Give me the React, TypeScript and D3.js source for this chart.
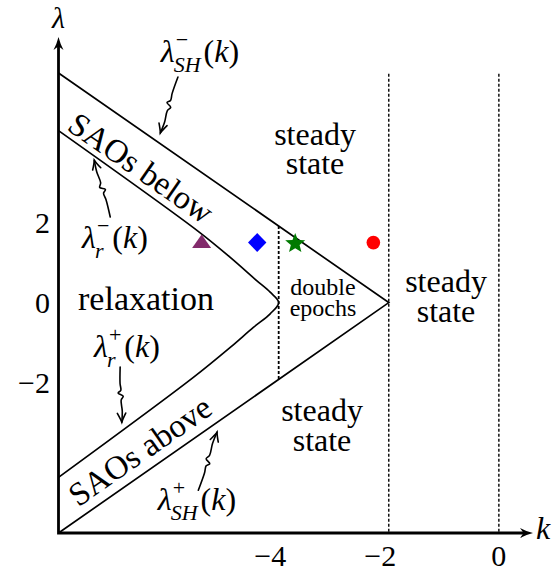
import React from 'react';
import * as d3 from 'd3';

const WIDTH = 554;
const HEIGHT = 571;
const FONT = "'Liberation Serif', 'Times New Roman', 'Noto Serif', serif";

// axis extents (k horizontal, λ vertical)
const kDomain = [-8, 0.62];
const lambdaDomain = [-5.76, 6.64];
const kTicks = [-4, -2, 0];
const lambdaTicks = [-2, 0, 2];

// saddle-homoclinic boundaries λ_SH^-(k) and λ_SH^+(k)
const shMinusK = [-8, -2];
const shMinusLambda = [5.74, 0];
const shPlusK = [-2, -8];
const shPlusLambda = [0, -5.76];

// relaxation boundaries λ_r^-(k) and λ_r^+(k)
const rMinusK = [-8, -5.45, -4.88, -4.4, -4.155, -4.0];
const rMinusLambda = [4.3, 1.77, 1.13, 0.55, 0.26, 0];
const rPlusK = [-4.155, -4.46, -4.88, -5.55, -8];
const rPlusLambda = [-0.28, -0.62, -1.12, -1.87, -4.37];

// dotted separators
const epochK = -4;
const separatorK = [-2, 0];
const separatorTop = 5.72;

// sample parameter points
const sampleK = [-5.4, -4.39, -3.7, -2.28];
const sampleLambda = [1.5, 1.5, 1.5, 1.5];
const sampleShape = ['triangle', 'diamond', 'star', 'circle'];
const sampleColor = ['#832b6c', '#0000ff', '#007a00', '#ff0000'];

// region names: lines, centre x, first baseline
const regionLines = [
  ['steady', 'state'],
  ['steady', 'state'],
  ['steady', 'state'],
  ['relaxation'],
  ['double', 'epochs'],
];
const regionX = [315, 446, 322, 146, 323];
const regionY = [145, 292, 421, 310, 295];
const regionSize = [32, 32, 32, 34, 24];
const regionLead = [29, 30, 30, 0, 21];

// boundary-curve labels
const curveSup = ['\u2212', '\u2212', '+', '+'];
const curveSub = ['SH', 'r', 'r', 'SH'];
const curveLabelX = [200, 115, 127, 197];
const curveLabelY = [62, 248, 357, 510];

// pointer arrows: start and tip in (k, λ)
const pointerFrom = [[-5.83, 5.64], [-7.06, 2.14], [-6.88, -1.61], [-5.46, -4.69]];
const pointerTo = [[-6.15, 4.24], [-7.35, 3.56], [-6.85, -2.99], [-5.12, -3.24]];

let measureCtx: CanvasRenderingContext2D | null = null;
function measure(s: string, size: number, italic = false): number {
  if (!measureCtx) measureCtx = document.createElement('canvas').getContext('2d');
  if (!measureCtx) return s.length * size * 0.5;
  measureCtx.font = `${italic ? 'italic ' : ''}${size}px ${FONT}`;
  return measureCtx.measureText(s).width;
}

const fmt = (v: number) => (v < 0 ? '\u2212' + Math.abs(v) : String(v));

function T(props: any) {
  const { italic, size, ...rest } = props;
  return (
    <text
      {...rest}
      fontFamily={FONT}
      style={{ fontFamily: FONT, fontSize: size + 'px', fontStyle: italic ? 'italic' : 'normal' }}
    />
  );
}

function MathLabel({ cx, base, sup, sub }: { cx: number; base: number; sup: string; sub: string }) {
  const size = 32;
  const ss = 22;
  const wL = measure('λ', size, true);
  const wSup = measure(sup, ss) + 1;
  const wSub = measure(sub, ss, true) - 1;
  const restX = wL + Math.max(wSup, wSub) + 3;
  const total = restX + measure('(', size) + measure('k', size, true) + measure(')', size);
  return (
    <g transform={`translate(${cx - total / 2},${base})`}>
      <T x={0} y={0} size={size} italic>λ</T>
      <T x={wL + 1} y={-size * 0.48} size={ss}>{sup}</T>
      <T x={wL - 1} y={size * 0.3} size={ss} italic>{sub}</T>
      <T x={restX} y={0} size={size}>
        (<tspan style={{ fontStyle: 'italic' }}>k</tspan>)
      </T>
    </g>
  );
}

function starPath(ro: number, ri: number) {
  const pts: [number, number][] = [];
  for (let j = 0; j < 10; j++) {
    const r = j % 2 === 0 ? ro : ri;
    const a = -Math.PI / 2 + (j * Math.PI) / 5;
    pts.push([r * Math.cos(a), r * Math.sin(a)]);
  }
  return 'M' + pts.map((p) => p.join(',')).join('L') + 'Z';
}

function axisHead(tx: number, ty: number, ux: number, uy: number) {
  const nx = -uy, ny = ux;
  const L = 13, W = 5;
  const p = d3.path();
  p.moveTo(tx, ty);
  p.quadraticCurveTo(tx - ux * L * 0.6 + nx * W * 0.4, ty - uy * L * 0.6 + ny * W * 0.4,
    tx - ux * L + nx * W, ty - uy * L + ny * W);
  p.lineTo(tx - ux * L * 0.72, ty - uy * L * 0.72);
  p.lineTo(tx - ux * L - nx * W, ty - uy * L - ny * W);
  p.quadraticCurveTo(tx - ux * L * 0.6 - nx * W * 0.4, ty - uy * L * 0.6 - ny * W * 0.4, tx, ty);
  p.closePath();
  return p.toString();
}

export default function App() {
  const x = d3.scaleLinear().domain(kDomain).range([58.5, 533]);
  const y = d3.scaleLinear().domain(lambdaDomain).range([533, 37]);

  const shUpper = d3.scaleLinear().domain(shMinusK).range(shMinusLambda);
  const shLower = d3.scaleLinear().domain(shPlusK).range(shPlusLambda);

  const line = d3.line<number[]>().x((d) => x(d[0])).y((d) => y(d[1]));
  const shPts = shMinusK.map((k, i) => [k, shMinusLambda[i]])
    .concat(shPlusK.slice(1).map((k, i) => [k, shPlusLambda[i + 1]]));

  const curve = d3.line<number[]>().x((d) => x(d[0])).y((d) => y(d[1]))
    .curve(d3.curveCatmullRom.alpha(0.5));
  const rPts = rMinusK.map((k, i) => [k, rMinusLambda[i]])
    .concat(rPlusK.map((k, i) => [k, rPlusLambda[i]]));

  const x0 = x(kDomain[0]);
  const yb = y(lambdaDomain[0]);
  const xTip = x(kDomain[1]);
  const yTip = y(lambdaDomain[1]);

  const ang = (Math.atan2(y(shMinusLambda[1]) - y(shMinusLambda[0]), x(shMinusK[1]) - x(shMinusK[0])) * 180) / Math.PI;

  const smooth = d3.line<[number, number]>().curve(d3.curveCatmullRom.alpha(0.5));
  const pointers = pointerFrom.map((from, i) => {
    const sx = x(from[0]), sy = y(from[1]);
    const tx = x(pointerTo[i][0]), ty = y(pointerTo[i][1]);
    const dx = tx - sx, dy = ty - sy;
    const len = Math.hypot(dx, dy);
    const ux = dx / len, uy = dy / len;
    const nx = -uy, ny = ux;
    const at = (t: number, o: number): [number, number] => [sx + dx * t + nx * o, sy + dy * t + ny * o];
    const body = smooth([at(0, 0), at(0.3, 0.6), at(0.42, 0), at(0.47, 2.8), at(0.53, -2.2), at(0.6, 0), at(0.8, -0.8), at(1, 0)]);
    const L = 9, W = 4.2;
    const p = d3.path();
    p.moveTo(tx - ux * L + nx * W, ty - uy * L + ny * W);
    p.quadraticCurveTo(tx - ux * 3 + nx * 1, ty - uy * 3 + ny * 1, tx, ty);
    p.quadraticCurveTo(tx - ux * 3 - nx * 1, ty - uy * 3 - ny * 1, tx - ux * L - nx * W, ty - uy * L - ny * W);
    return { body, head: p.toString() };
  });

  return (
    <svg
      width={WIDTH}
      height={HEIGHT}
      fontFamily={FONT}
      style={{ position: 'absolute', left: 0, top: 0, background: '#fff', fontFamily: FONT }}
    >
      {/* dotted separators */}
      <line x1={x(epochK)} x2={x(epochK)} y1={y(shUpper(epochK))} y2={y(shLower(epochK))}
        stroke="#000" strokeWidth={1.8} strokeDasharray="3,2" />
      {separatorK.map((k) => (
        <line key={k} x1={x(k)} x2={x(k)} y1={y(separatorTop)} y2={y(lambdaDomain[0])}
          stroke="#000" strokeWidth={1.4} strokeDasharray="3,2" />
      ))}

      {/* boundaries */}
      <path d={line(shPts) || ''} fill="none" stroke="#000" strokeWidth={1.7} strokeLinejoin="miter" />
      <path d={curve(rPts) || ''} fill="none" stroke="#000" strokeWidth={1.7} />

      {/* axes */}
      <path d={`M${x0},${yTip + 8}L${x0},${yb}L${xTip - 8},${yb}`} fill="none" stroke="#000"
        strokeWidth={2.8} strokeLinejoin="miter" />
      <path d={axisHead(x0, yTip, 0, -1)} fill="#000" />
      <path d={axisHead(xTip, yb, 1, 0)} fill="#000" />
      <T x={x0} y={28} size={30} italic textAnchor="middle">λ</T>
      <T x={536} y={539} size={32} italic>k</T>

      {kTicks.map((k) => (
        <T key={k} x={x(k) + 7.5} y={566} size={30} textAnchor="end">{fmt(k)}</T>
      ))}
      {lambdaTicks.map((v) => (
        <T key={v} x={50} y={y(v) + 10} size={30} textAnchor="end">{fmt(v)}</T>
      ))}

      {/* region names */}
      {regionLines.map((lines, i) =>
        lines.map((s, j) => (
          <T key={`${i}-${j}`} x={regionX[i]} y={regionY[i] + j * regionLead[i]} size={regionSize[i]}
            textAnchor="middle">{s}</T>
        ))
      )}

      {/* band names */}
      <T transform={`translate(141,168) rotate(${ang})`} size={33} textAnchor="middle"
        dominantBaseline="central">SAOs below</T>
      <T transform={`translate(140,451) rotate(${-ang})`} size={33} textAnchor="middle"
        dominantBaseline="central">SAOs above</T>

      {/* boundary labels */}
      {curveSup.map((s, i) => (
        <MathLabel key={i} cx={curveLabelX[i]} base={curveLabelY[i]} sup={s} sub={curveSub[i]} />
      ))}

      {/* pointers */}
      {pointers.map((p, i) => (
        <g key={i} fill="none" stroke="#000" strokeWidth={1.6} strokeLinecap="round">
          <path d={p.body || ''} />
          <path d={p.head} />
        </g>
      ))}

      {/* sample points */}
      {sampleK.map((k, i) => {
        const cx = x(k), cy = y(sampleLambda[i]);
        const shape = sampleShape[i];
        if (shape === 'circle') return <circle key={i} cx={cx} cy={cy} r={6.8} fill={sampleColor[i]} />;
        const d = shape === 'triangle' ? 'M0,-8L9.5,5.5L-9.5,5.5Z'
          : shape === 'diamond' ? 'M0,-9.5L9.2,0L0,9.5L-9.2,0Z'
          : starPath(10.5, 4.6);
        return <path key={i} d={d} transform={`translate(${cx},${cy + (shape === 'star' ? 1 : 0)})`} fill={sampleColor[i]} />;
      })}
    </svg>
  );
}
